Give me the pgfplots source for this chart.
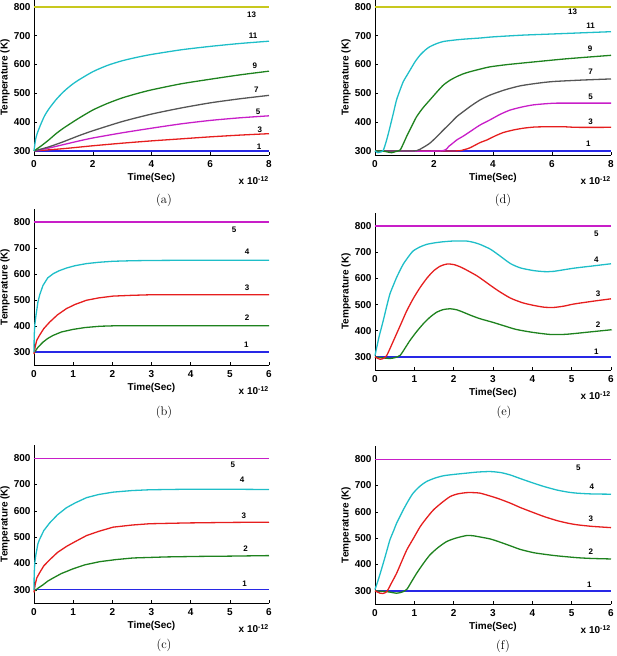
\documentclass[border=0pt]{standalone}
\usepackage{fontspec}
\usepackage{pgfplots}
\pgfplotsset{compat=1.18}
\newfontfamily\lsans{Liberation Sans}
\definecolor{cB}{RGB}{40,40,230}
\definecolor{cR}{RGB}{230,30,30}
\definecolor{cG}{RGB}{30,130,30}
\definecolor{cC}{RGB}{30,190,200}
\definecolor{cM}{RGB}{200,30,200}
\definecolor{cK}{RGB}{85,85,85}
\definecolor{cY}{RGB}{200,200,30}
\newcommand{\lf}{\lsans\bfseries\fontsize{10}{12}\selectfont}
\newcommand{\nf}{\lsans\bfseries\fontsize{8}{10}\selectfont}
\pgfplotsset{
  mystyle/.style={
    scale only axis, anchor=south west,
    axis x line*=bottom, axis y line*=left,
    axis line style={-, black, line width=0.6pt},
    tick align=inside, major tick length=2.5pt,
    tick style={black, line width=0.5pt},
    ytick={300,400,...,800},
    xlabel={Time(Sec)}, ylabel={Temperature (K)},
    tick label style={font=\lf},
    label style={font=\lf},
    /pgf/number format/assume math mode=true,
    xlabel style={at={(axis description cs:0.5,0)}, anchor=center, yshift=-23pt},
    ylabel style={at={([xshift=-29pt]axis description cs:0,0.5)}, anchor=center},
    xticklabel style={yshift=-2pt},
    clip=false,
    every axis plot/.append style={line width=1.3pt},
  },
  sm/.style={smooth, tension=0.4}
}
\newcommand{\xten}{\node[anchor=north east, inner sep=0pt, font=\lf] at (rel axis cs:1,0) [yshift=-21pt] {x 10\textsuperscript{-12}};}
\begin{document}
\begin{tikzpicture}
\useasboundingbox (0,0) rectangle (617pt,656pt);
% (a)
\begin{axis}[mystyle, at={(34pt,501pt)}, width=235pt, height=155pt,
  xmin=0, xmax=8, ymin=286, ymax=824, xtick={0,2,4,6,8}]
\addplot[cB] coordinates {(0,300)(8,300)};
\addplot[cR,sm] coordinates {(0,300)(1,308)(2,318)(3,327)(4,335)(5,342)(6,349)(7,355)(8,360)};
\addplot[cM,sm] coordinates {(0,300)(0.5,310)(1,322)(1.5,334)(2,345)(3,363)(4,379)(5,394)(6,406)(7,415)(8,422)};
\addplot[cK,sm] coordinates {(0,300)(0.5,314)(1,332)(1.5,352)(2,370)(3,402)(4,428)(5,449)(6,467)(7,481)(8,493)};
\addplot[cG,sm] coordinates {(0,300)(0.25,318)(0.5,338)(0.75,360)(1,379)(1.5,412)(2,442)(2.5,465)(3,484)(3.5,499)(4,512)(5,533)(6,549)(7,564)(8,577)};
\addplot[cC,sm] coordinates {(0,300)(0.05,338)(0.1,358)(0.2,385)(0.35,420)(0.5,445)(0.75,478)(1,505)(1.25,527)(1.5,545)(2,575)(2.5,597)(3,613)(3.5,625)(4,635)(5,651)(6,663)(7,673)(8,681)};
\addplot[cY] coordinates {(0,800)(8,800)};
\node[font=\nf] at (axis cs:7.41,772) {13};
\node[font=\nf] at (axis cs:7.46,699) {11};
\node[font=\nf] at (axis cs:7.52,595) {9};
\node[font=\nf] at (axis cs:7.57,512) {7};
\node[font=\nf] at (axis cs:7.63,436) {5};
\node[font=\nf] at (axis cs:7.69,373) {3};
\node[font=\nf] at (axis cs:7.66,315) {1};
\xten
\end{axis}
% (d)
\begin{axis}[mystyle, at={(375pt,501pt)}, width=236pt, height=155pt,
  xmin=0, xmax=8, ymin=286, ymax=824, xtick={0,2,4,6,8}]
\addplot[cB] coordinates {(0,300)(8,300)};
\addplot[cR,sm] coordinates {(0,300)(2.66,300)(3,304)(3.22,311)(3.56,329)(3.79,338)(4.07,352)(4.35,364)(4.7,373)(5.03,379)(5.4,383)(5.82,384)(6.4,384)(6.84,382)(8,382)};
\addplot[cM,sm] coordinates {(0,300)(2.2,300)(2.5,316)(2.77,338)(3,352)(3.22,367)(3.56,390)(3.9,408)(4.24,427)(4.58,442)(5,453)(5.37,460)(5.8,464)(6.16,466)(7,466)(8,466)};
\addplot[cK,sm] coordinates {(0,300)(1,300)(1.41,301)(1.63,312)(1.86,327)(2.1,350)(2.32,373)(2.55,396)(2.77,419)(3,437)(3.22,454)(3.56,477)(3.9,494)(4.4,512)(4.92,526)(5.5,535)(6.04,541)(7,546)(8,550)};
\addplot[cG,sm] coordinates {(0,300)(0.3,299)(0.56,294)(0.7,298)(0.85,303)(0.96,325)(1.07,350)(1.24,385)(1.41,419)(1.63,450)(1.86,477)(2.1,505)(2.32,529)(2.55,546)(2.77,558)(3,568)(3.22,575)(3.56,584)(3.9,592)(4.5,600)(5.48,610)(6.5,620)(8,632)};
\addplot[cC,sm] coordinates {(0,300)(0.1,294)(0.17,296)(0.28,302)(0.4,340)(0.51,384)(0.62,430)(0.73,477)(0.85,512)(0.96,541)(1.08,562)(1.19,581)(1.36,610)(1.53,633)(1.7,650)(1.86,662)(2.1,673)(2.32,680)(2.7,685)(3,688)(3.56,692)(4,696)(5,702)(6,706)(7,710)(8,714)};
\addplot[cY] coordinates {(0,800)(8,800)};
\node[font=\nf] at (axis cs:6.70,782) {13};
\node[font=\nf] at (axis cs:7.31,736) {11};
\node[font=\nf] at (axis cs:7.29,654) {9};
\node[font=\nf] at (axis cs:7.31,575) {7};
\node[font=\nf] at (axis cs:7.31,489) {5};
\node[font=\nf] at (axis cs:7.31,402) {3};
\node[font=\nf] at (axis cs:7.23,324) {1};
\xten
\end{axis}
% (b)
\begin{axis}[mystyle, at={(34pt,291pt)}, width=235pt, height=156pt,
  xmin=0, xmax=6, ymin=250, ymax=850, xtick={0,1,...,6}]
\addplot[cB] coordinates {(0,300)(6,300)};
\addplot[cG] coordinates {(0,296)(0.1,318)(0.23,338)(0.35,352)(0.49,364)(0.7,377)(1.0,387)(1.3,394)(1.68,399)(2.1,401)(2.53,401)(4,401)(6,401)};
\addplot[cR] coordinates {(0,292)(0.03,320)(0.07,345)(0.14,364)(0.25,390)(0.4,415)(0.6,443)(0.83,467)(1.05,483)(1.34,499)(1.65,508)(2.02,515)(2.5,518)(2.95,520)(4,520)(6,520)};
\addplot[cC] coordinates {(0,300)(0.005,360)(0.02,403)(0.05,440)(0.1,492)(0.15,522)(0.23,556)(0.35,585)(0.49,601)(0.65,613)(0.83,623)(1.05,632)(1.34,640)(1.65,645)(2.02,649)(2.5,651)(2.95,652)(4,653)(5,653)(6,653)};
\addplot[cM] coordinates {(0,800)(6,800)};
\node[font=\nf] at (axis cs:5.11,770) {5};
\node[font=\nf] at (axis cs:5.44,685) {4};
\node[font=\nf] at (axis cs:5.44,546) {3};
\node[font=\nf] at (axis cs:5.44,432) {2};
\node[font=\nf] at (axis cs:5.42,328) {1};
\xten
\end{axis}
% (e)
\begin{axis}[mystyle, at={(375pt,286pt)}, width=236pt, height=157pt,
  xmin=0, xmax=6, ymin=250, ymax=850, xtick={0,1,...,6}]
\addplot[cB, line width=1.6pt] coordinates {(0,300)(6,300)};
\addplot[cG,sm] coordinates {(0,300)(0.21,296)(0.38,294)(0.5,297)(0.64,306)(0.77,335)(0.89,363)(1.06,397)(1.23,427)(1.4,452)(1.57,471)(1.74,481)(1.91,484)(2.08,480)(2.24,471)(2.45,458)(2.67,446)(3.0,432)(3.3,418)(3.59,405)(4.0,394)(4.44,386)(4.8,386)(5.05,389)(5.5,396)(5.96,403)(6,404)};
\addplot[cR,sm] coordinates {(0,300)(0.13,291)(0.22,295)(0.3,306)(0.42,345)(0.55,389)(0.68,433)(0.81,477)(0.98,525)(1.15,566)(1.32,601)(1.49,629)(1.66,647)(1.83,655)(2.0,653)(2.2,642)(2.59,610)(2.92,575)(3.14,552)(3.44,525)(3.75,507)(4.03,497)(4.3,490)(4.54,489)(4.8,494)(5.05,502)(5.5,512)(6,522)};
\addplot[cC,sm] coordinates {(0,305)(0.1,375)(0.21,439)(0.3,495)(0.38,541)(0.47,575)(0.55,604)(0.64,632)(0.72,655)(0.85,683)(0.97,705)(1.14,720)(1.31,730)(1.52,736)(1.73,740)(2.0,743)(2.32,743)(2.5,738)(2.67,730)(2.93,712)(3.14,690)(3.44,657)(3.7,640)(4.03,630)(4.3,626)(4.54,627)(5.05,639)(5.5,647)(6,656)};
\addplot[cM] coordinates {(0,800)(6,800)};
\node[font=\nf] at (axis cs:5.63,771) {5};
\node[font=\nf] at (axis cs:5.63,673) {4};
\node[font=\nf] at (axis cs:5.67,541) {3};
\node[font=\nf] at (axis cs:5.67,424) {2};
\node[font=\nf] at (axis cs:5.63,319) {1};
\xten
\end{axis}
% (c)
\begin{axis}[mystyle, at={(34pt,53pt)}, width=235pt, height=158pt,
  xmin=0, xmax=6, ymin=250, ymax=850, xtick={0,1,...,6}]
\addplot[cB] coordinates {(0,300)(6,300)};
\addplot[cG] coordinates {(0,294)(0.1,306)(0.23,319)(0.35,333)(0.49,345)(0.7,362)(1.0,380)(1.3,395)(1.68,407)(2.1,415)(2.53,421)(3.38,425)(4.23,427)(5,428)(6,430)};
\addplot[cR] coordinates {(0,290)(0.03,320)(0.07,345)(0.14,364)(0.25,391)(0.4,414)(0.6,442)(0.83,465)(1.05,483)(1.34,506)(1.65,522)(2.02,538)(2.5,546)(2.95,551)(3.89,554)(5,556)(6,557)};
\addplot[cC] coordinates {(0,300)(0.005,360)(0.02,402)(0.05,435)(0.1,475)(0.14,491)(0.25,525)(0.4,554)(0.6,585)(0.83,612)(1.05,630)(1.34,650)(1.65,662)(2.02,671)(2.5,677)(2.95,680)(3.89,682)(5,682)(6,681)};
\addplot[cM] coordinates {(0,800)(6,800)};
\node[font=\nf] at (axis cs:5.08,775) {5};
\node[font=\nf] at (axis cs:5.31,717) {4};
\node[font=\nf] at (axis cs:5.36,582) {3};
\node[font=\nf] at (axis cs:5.40,458) {2};
\node[font=\nf] at (axis cs:5.38,323) {1};
\xten
\end{axis}
% (f)
\begin{axis}[mystyle, at={(375pt,52pt)}, width=236pt, height=158pt,
  xmin=0, xmax=6, ymin=250, ymax=850, xtick={0,1,...,6}]
\addplot[cB, line width=1.8pt] coordinates {(0,300)(6,300)};
\addplot[cG,sm] coordinates {(0,300)(0.3,297)(0.55,291)(0.7,296)(0.81,306)(0.93,335)(1.06,367)(1.23,404)(1.4,437)(1.6,464)(1.82,487)(2.05,500)(2.33,510)(2.5,509)(2.76,502)(2.93,497)(3.14,487)(3.44,471)(3.7,457)(4.03,445)(4.3,439)(4.62,433)(5.13,426)(5.5,423)(6,421)};
\addplot[cR,sm] coordinates {(0,300)(0.13,291)(0.2,290)(0.3,297)(0.42,330)(0.55,367)(0.68,412)(0.81,456)(0.98,500)(1.15,544)(1.32,578)(1.49,608)(1.7,635)(1.91,658)(2.1,668)(2.33,673)(2.5,673)(2.67,671)(2.93,660)(3.14,650)(3.44,633)(3.7,616)(4.03,597)(4.3,582)(4.62,567)(4.9,557)(5.13,551)(5.5,545)(6,540)};
\addplot[cC,sm] coordinates {(0,305)(0.1,350)(0.21,405)(0.3,452)(0.38,494)(0.47,527)(0.55,557)(0.64,584)(0.72,608)(0.85,643)(0.97,671)(1.14,697)(1.31,715)(1.52,728)(1.74,737)(2.0,742)(2.33,747)(2.6,751)(2.93,753)(3.2,749)(3.44,740)(3.7,726)(4.03,709)(4.3,696)(4.62,683)(4.9,675)(5.13,671)(5.5,668)(6,667)};
\addplot[cM] coordinates {(0,800)(6,800)};
\node[font=\nf] at (axis cs:5.17,768) {5};
\node[font=\nf] at (axis cs:5.51,696) {4};
\node[font=\nf] at (axis cs:5.49,572) {3};
\node[font=\nf] at (axis cs:5.49,449) {2};
\node[font=\nf] at (axis cs:5.45,325) {1};
\xten
\end{axis}
% captions
\node[font=\fontsize{12.5}{14}\selectfont] at (164pt,456pt) {(a)};
\node[font=\fontsize{12.5}{14}\selectfont] at (503pt,456pt) {(d)};
\node[font=\fontsize{12.5}{14}\selectfont] at (164pt,244pt) {(b)};
\node[font=\fontsize{12.5}{14}\selectfont] at (504pt,244pt) {(e)};
\node[font=\fontsize{12.5}{14}\selectfont] at (164pt,11pt) {(c)};
\node[font=\fontsize{12.5}{14}\selectfont] at (503pt,10pt) {(f)};
\end{tikzpicture}
\end{document}
